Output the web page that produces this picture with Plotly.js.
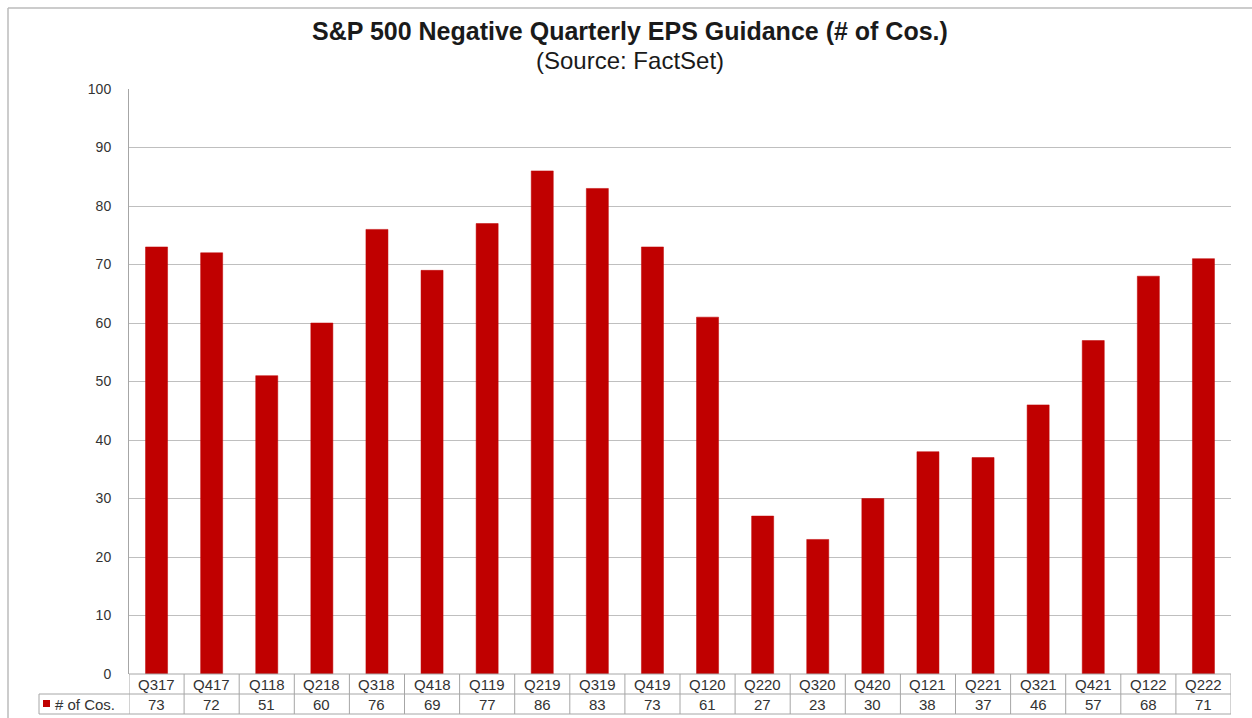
<!DOCTYPE html>
<html>
<head>
<meta charset="utf-8">
<script src="https://cdn.plot.ly/plotly-3.0.1.min.js"></script>
<style>html,body{margin:0;padding:0;background:#fff;}#chart{width:1252px;height:718px;}</style>
</head>
<body>
<div id="chart"></div>
<script>
const categories = ["Q317","Q417","Q118","Q218","Q318","Q418","Q119","Q219","Q319","Q419","Q120","Q220","Q320","Q420","Q121","Q221","Q321","Q421","Q122","Q222"];
const counts = [73,72,51,60,76,69,77,86,83,73,61,27,23,30,38,37,46,57,68,71];
const seriesName = "# of Cos.";
const yTicks = [0,10,20,30,40,50,60,70,80,90,100];

const W = 1252, H = 718;
const mL = 129, mR = 21, mT = 89, mB = 44;
const pw = W - mL - mR, ph = H - mT - mB;
const px = x => (x - mL) / pw;          // pixel -> paper x
const py = y => (H - mB - y) / ph;      // pixel -> paper y

const barColor = "#C00000";
const borderCol = "#A6A6A6";
const textCol = "#333333";
const font = "Liberation Sans, Arial, sans-serif";

const row1Bottom = py(694), row2Bottom = py(714);
const legendLeft = px(39);

const shapes = [];
shapes.push({type:"line", xref:"paper", yref:"paper", x0:0, x1:1, y0:0, y1:0, line:{color:borderCol, width:1}});
shapes.push({type:"line", xref:"paper", yref:"paper", x0:legendLeft, x1:1, y0:row1Bottom, y1:row1Bottom, line:{color:borderCol, width:1}});
shapes.push({type:"line", xref:"paper", yref:"paper", x0:legendLeft, x1:1, y0:row2Bottom, y1:row2Bottom, line:{color:borderCol, width:1}});
shapes.push({type:"line", xref:"paper", yref:"paper", x0:legendLeft, x1:legendLeft, y0:row1Bottom, y1:row2Bottom, line:{color:borderCol, width:1}});
for (let i = 0; i <= categories.length; i++) {
  shapes.push({type:"line", xref:"x", yref:"paper", x0:i-0.5, x1:i-0.5, y0:0, y1:row2Bottom, line:{color:borderCol, width:1}});
}
shapes.push({type:"rect", xref:"paper", yref:"paper", x0:px(43), x1:px(50), y0:py(707), y1:py(700), fillcolor:barColor, line:{width:0}});
shapes.push({type:"line", xref:"paper", yref:"paper", x0:px(8), x1:px(1252), y0:py(8), y1:py(8), line:{color:"#BBBBBB", width:1.5}});
shapes.push({type:"line", xref:"paper", yref:"paper", x0:px(8), x1:px(8), y0:py(8), y1:py(718), line:{color:"#BBBBBB", width:1.5}});

const annotations = [];
categories.forEach((c, i) => {
  annotations.push({xref:"x", yref:"paper", x:i, y:py(684), text:c, showarrow:false, xanchor:"center", yanchor:"middle", font:{family:font, size:15, color:textCol}});
  annotations.push({xref:"x", yref:"paper", x:i, y:py(704), text:String(counts[i]), showarrow:false, xanchor:"center", yanchor:"middle", font:{family:font, size:15, color:textCol}});
});
annotations.push({xref:"paper", yref:"paper", x:px(53), y:py(704), text:seriesName, showarrow:false, xanchor:"left", yanchor:"middle", font:{family:font, size:15, color:textCol}});
annotations.push({xref:"paper", yref:"paper", x:px(630), y:py(31), text:"<b>S&P 500 Negative Quarterly EPS Guidance (# of Cos.)</b>", showarrow:false, xanchor:"center", yanchor:"middle", font:{family:font, size:25, color:"#1a1a1a"}});
annotations.push({xref:"paper", yref:"paper", x:px(630), y:py(61), text:"(Source: FactSet)", showarrow:false, xanchor:"center", yanchor:"middle", font:{family:font, size:24, color:"#1a1a1a"}});

const data = [{
  type:"bar",
  x: categories,
  y: counts,
  name: seriesName,
  marker:{color:barColor, line:{color:barColor, width:0.5}},
  hoverinfo:"x+y"
}];

const layout = {
  width:W, height:H,
  margin:{l:mL, r:mR, t:mT, b:mB, pad:0},
  paper_bgcolor:"#ffffff",
  plot_bgcolor:"#ffffff",
  showlegend:false,
  bargap:0.6,
  xaxis:{
    type:"category",
    range:[-0.5, categories.length-0.5],
    showticklabels:false,
    ticks:"",
    showgrid:false,
    zeroline:false,
    showline:false,
    fixedrange:true
  },
  yaxis:{
    range:[0,100],
    tickvals:yTicks,
    ticktext:yTicks.map(String),
    showgrid:true,
    gridcolor:"#BFBFBF",
    gridwidth:1,
    zeroline:false,
    showline:true,
    linecolor:"#A6A6A6",
    linewidth:1,
    ticks:"outside",
    ticklen:14,
    tickcolor:"rgba(0,0,0,0)",
    tickfont:{family:font, size:14, color:textCol},
    fixedrange:true
  },
  shapes: shapes,
  annotations: annotations
};

Plotly.newPlot("chart", data, layout, {displayModeBar:false, staticPlot:true});
</script>
</body>
</html>
